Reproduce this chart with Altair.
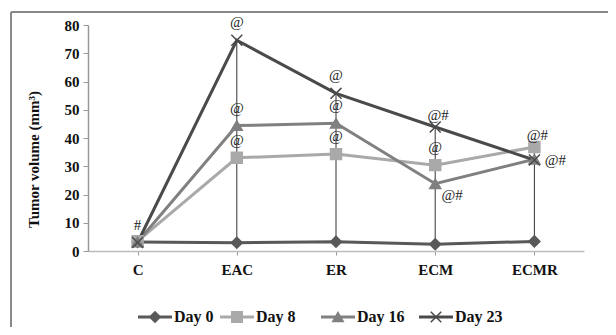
import altair as alt
import pandas as pd

categories = ["C", "EAC", "ER", "ECM", "ECMR"]
series = ["Day 0", "Day 8", "Day 16", "Day 23"]
day0 = [3.2, 2.9, 3.3, 2.4, 3.4]
day8 = [3.5, 33.0, 34.3, 30.4, 36.8]
day16 = [3.2, 44.4, 45.2, 23.8, 32.5]
day23 = [3.0, 74.6, 55.8, 43.9, 32.2]
colors = ["#595959", "#a9a9a9", "#808080", "#4a4a4a"]

# annotations: (category, anchor series, text, placement)
ann_cat = ["C", "EAC", "EAC", "EAC", "ER", "ER", "ER", "ECM", "ECM", "ECM", "ECMR", "ECMR"]
ann_series = ["Day 23", "Day 23", "Day 16", "Day 8", "Day 23", "Day 16", "Day 8",
              "Day 23", "Day 8", "Day 16", "Day 8", "Day 23"]
ann_text = ["#", "@", "@", "@", "@", "@", "@", "@#", "@", "@#", "@#", "@#"]
ann_place = ["above", "above", "above", "above", "above", "above", "above",
             "above_near", "above", "below_right", "above_near", "right"]

vals = {"Day 0": day0, "Day 8": day8, "Day 16": day16, "Day 23": day23}
rows = []
for s in series:
    for i, c in enumerate(categories):
        rows.append({"Category": c, "Series": s, "Value": vals[s][i], "order": series.index(s)})
df = pd.DataFrame(rows)

hl = df.groupby("Category")["Value"].agg(["min", "max"]).reset_index().rename(columns={"min": "Value"})

arows = []
for c, s, t, p in zip(ann_cat, ann_series, ann_text, ann_place):
    arows.append({"Category": c, "Value": vals[s][categories.index(c)], "Text": t, "Place": p})
adf = pd.DataFrame(arows)
place_off = {"above": (0, -18), "above_near": (3, -12), "below_right": (17, 11), "right": (21, 0)}

serif = "'Liberation Serif', 'Times New Roman', Times, serif"
xs = alt.Scale(type="point", domain=categories, padding=0.5)
ys = alt.Scale(domain=[0, 80], nice=False)
cs = alt.Scale(domain=series, range=colors)
shape_scale = alt.Scale(domain=series, range=["diamond", "square", "triangle-up", "M-1,-1L1,1M1,-1L-1,1"])

xaxis = alt.Axis(title=None, labelFont=serif, labelFontWeight="bold", labelFontSize=15,
                 labelColor="#111", domainColor="#bcbcbc", domainWidth=1.5, tickColor="#999",
                 tickSize=4, labelPadding=7, labelAngle=0, grid=False)
yaxis = alt.Axis(title="Tumor volume (mm³)", values=list(range(0, 81, 10)), titleFont=serif,
                 titleFontWeight="bold", titleFontSize=15, titleColor="#111",
                 titleX=-55, titleY=134, titleAngle=270, titleAlign="center", titleBaseline="middle",
                 labelFont=serif, labelFontWeight="bold", labelFontSize=15, labelColor="#111",
                 labelOverlap=False, domainColor="#999", domainWidth=1.5, tickColor="#999", tickSize=5,
                 labelPadding=4, grid=False)
X = alt.X("Category:N", scale=xs, sort=categories, axis=xaxis)
Y = alt.Y("Value:Q", scale=ys, axis=yaxis)

hilo = alt.Chart(hl).mark_rule(color="#333", strokeWidth=1).encode(x=X, y=Y, y2="max:Q")

lines = alt.Chart(df).mark_line(strokeWidth=3).encode(
    x=X, y=Y,
    color=alt.Color("Series:N", scale=cs, legend=None),
    detail="Series:N", order="order:Q")

points = alt.Chart(df).mark_point(filled=True, size=120, strokeWidth=1.5, opacity=1).encode(
    x=X, y=Y,
    color=alt.Color("Series:N", scale=cs, legend=None),
    stroke=alt.Stroke("Series:N", scale=cs, legend=None),
    shape=alt.Shape("Series:N", scale=shape_scale, legend=None),
    order="order:Q")

ann_layers = []
for p, (dx, dy) in place_off.items():
    ann_layers.append(
        alt.Chart(adf[adf["Place"] == p]).mark_text(font=serif, fontSize=15, color="#222", dx=dx, dy=dy).encode(
            x=X, y=Y, text="Text:N"))

# manual legend (one entry per series, laid out left to right)
legend_x = [67, 149, 250, 348]
ldf = pd.DataFrame({"Series": series})
leg_layers = []
for s, px in zip(series, legend_x):
    d = ldf[ldf["Series"] == s]
    col = alt.Color("Series:N", scale=cs, legend=None)
    leg_layers.append(alt.Chart(d).mark_rule(strokeWidth=3).encode(
        x=alt.value(px - 17), x2=alt.value(px + 17), y=alt.value(292), color=col))
    leg_layers.append(alt.Chart(d).mark_point(filled=True, size=110, strokeWidth=1.5, opacity=1).encode(
        x=alt.value(px), y=alt.value(292), color=col,
        stroke=alt.Stroke("Series:N", scale=cs, legend=None),
        shape=alt.Shape("Series:N", scale=shape_scale, legend=None)))
    leg_layers.append(alt.Chart(d).mark_text(font=serif, fontSize=16, fontWeight="bold", color="#111",
                                             align="left", baseline="middle").encode(
        x=alt.value(px + 19), y=alt.value(292), text="Series:N"))

border_top = alt.Chart(ldf).mark_rule(color="#888", strokeWidth=1.5).encode(
    x=alt.value(-77), x2=alt.value(620), y=alt.value(-13))
border_left = alt.Chart(ldf).mark_rule(color="#888", strokeWidth=1.5).encode(
    x=alt.value(-77), y=alt.value(-13), y2=alt.value(400))

chart = alt.layer(hilo, lines, points, *ann_layers, *leg_layers, border_top, border_left).properties(
    width=496, height=226,
    padding={"left": 80, "top": 17, "right": 24, "bottom": 76},
    autosize=alt.AutoSizeParams(type="none"),
    background="white"
).configure_view(stroke=None)

chart.save("out.html", embed_options={"renderer": "svg", "actions": False})
